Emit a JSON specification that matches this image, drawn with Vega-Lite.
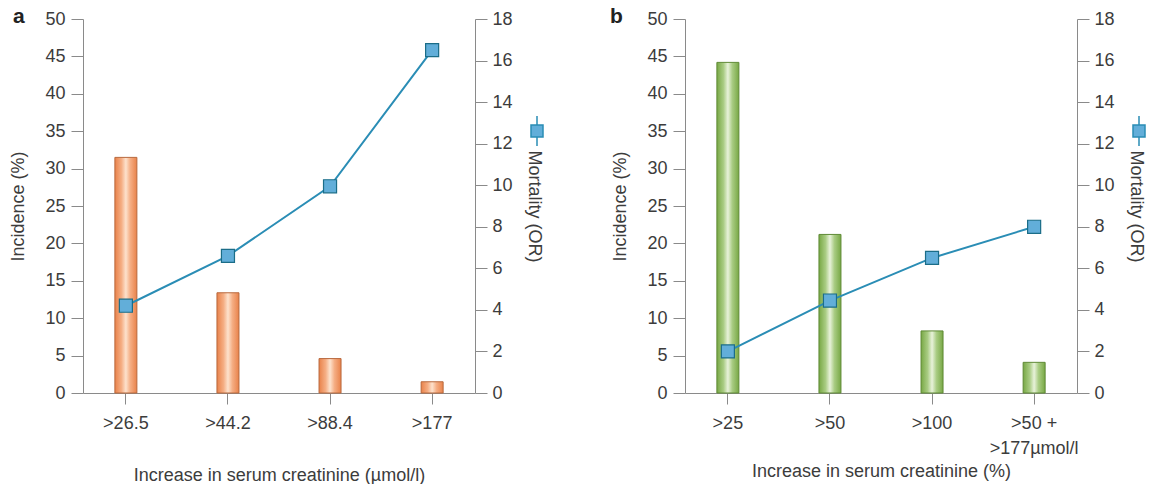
{
  "$schema": "https://vega.github.io/schema/vega-lite/v6.json",
  "background": "white",
  "padding": {"left": 9, "top": 6, "right": 0, "bottom": 0},
  "spacing": 52,
  "config": {
    "view": {"stroke": null},
    "font": "Liberation Sans",
    "axis": {
      "labelFont": "Liberation Sans", "labelFontSize": 18, "labelColor": "#3c3c3c",
      "titleFont": "Liberation Sans", "titleFontSize": 18, "titleFontWeight": "normal", "titleColor": "#3c3c3c",
      "domainColor": "#8a8a8a", "tickColor": "#8a8a8a", "grid": false, "tickSize": 12, "labelPadding": 6
    },
    "title": {"font": "Liberation Sans", "fontSize": 21, "fontWeight": "bold", "color": "#222222"}
  },
  "resolve": {"scale": {"color": "independent"}, "legend": {"color": "independent"}},
  "hconcat": [
    {
      "width": 392, "height": 374,
      "title": {"text": "a", "anchor": "start", "frame": "bounds", "offset": 0, "dx": 3, "dy": 17},
      "data": {"values": [
        {"level": ">26.5", "incidence": 31.5, "mortality": 4.2},
        {"level": ">44.2", "incidence": 13.4, "mortality": 6.6},
        {"level": ">88.4", "incidence": 4.6, "mortality": 9.95},
        {"level": ">177", "incidence": 1.5, "mortality": 16.5}
      ]},
      "encoding": {
        "x": {"field": "level", "type": "nominal", "sort": null,
          "scale": {"paddingInner": 0.5, "paddingOuter": 0.17},
          "axis": {"title": "Increase in serum creatinine (µmol/l)", "labelAngle": 0, "tickSize": 11, "labelPadding": 10, "titlePadding": 34}}
      },
      "layer": [
        {
          "mark": {"type": "bar", "width": 22, "stroke": "#b8683d", "strokeWidth": 1,
            "color": {"gradient": "linear", "x1": 0, "x2": 1, "y1": 0, "y2": 0,
              "stops": [{"offset": 0, "color": "#e9824a"}, {"offset": 0.3, "color": "#f5ae84"}, {"offset": 0.5, "color": "#fde2cd"}, {"offset": 0.7, "color": "#f5ae84"}, {"offset": 1, "color": "#e9824a"}]}},
          "encoding": {"y": {"field": "incidence", "type": "quantitative",
            "scale": {"domain": [0, 50], "nice": false},
            "axis": {"orient": "left", "title": "Incidence (%)", "values": [0,5,10,15,20,25,30,35,40,45,50], "titlePadding": 17}}}
        },
        {
          "encoding": {"y": {"field": "mortality", "type": "quantitative",
            "scale": {"domain": [0, 18], "nice": false},
            "axis": {"orient": "right", "title": "Mortality (OR)", "values": [0,2,4,6,8,10,12,14,16,18], "labelPadding": 5, "titlePadding": 12}}},
          "layer": [
            {"mark": {"type": "line", "strokeWidth": 2},
             "encoding": {"color": {"datum": "Mortality (OR)", "scale": {"range": ["#2a8db5"]},
               "legend": {"orient": "none", "legendX": 438, "legendY": 96, "title": null, "labelExpr": "''", "padding": 0,
                 "symbolType": "M-0.4,-0.4H0.4V0.4H-0.4Z M0,-1V-0.4 M0,0.4V1", "symbolSize": 900,
                 "symbolFillColor": "#62aed9", "symbolStrokeColor": "#1f7ea3", "symbolStrokeWidth": 1.5}}}},
            {"mark": {"type": "point", "shape": "square", "size": 170, "filled": true, "fill": "#62aed9", "stroke": "#1b6d88", "strokeWidth": 1.2, "opacity": 1}}
          ]
        }
      ],
      "resolve": {"scale": {"y": "independent"}}
    },
    {
      "width": 392, "height": 374,
      "title": {"text": "b", "anchor": "start", "frame": "bounds", "offset": 0, "dx": -2, "dy": 17},
      "data": {"values": [
        {"level": ">25", "incidence": 44.2, "mortality": 2.0},
        {"level": ">50", "incidence": 21.2, "mortality": 4.45},
        {"level": ">100", "incidence": 8.3, "mortality": 6.5},
        {"level": ">50 +\n>177µmol/l", "incidence": 4.1, "mortality": 8.0}
      ]},
      "encoding": {
        "x": {"field": "level", "type": "nominal", "sort": null,
          "scale": {"paddingInner": 0.5, "paddingOuter": 0.17},
          "axis": {"title": "Increase in serum creatinine (%)", "labelAngle": 0, "tickSize": 11, "labelPadding": 10, "titlePadding": 5,
            "labelExpr": "split(datum.value, '\\n')", "labelLineHeight": 25}}
      },
      "layer": [
        {
          "mark": {"type": "bar", "width": 22, "stroke": "#5f8a35", "strokeWidth": 1,
            "color": {"gradient": "linear", "x1": 0, "x2": 1, "y1": 0, "y2": 0,
              "stops": [{"offset": 0, "color": "#78a845"}, {"offset": 0.3, "color": "#a9cc83"}, {"offset": 0.5, "color": "#e8f2da"}, {"offset": 0.7, "color": "#a9cc83"}, {"offset": 1, "color": "#78a845"}]}},
          "encoding": {"y": {"field": "incidence", "type": "quantitative",
            "scale": {"domain": [0, 50], "nice": false},
            "axis": {"orient": "left", "title": "Incidence (%)", "values": [0,5,10,15,20,25,30,35,40,45,50], "titlePadding": 17}}}
        },
        {
          "encoding": {"y": {"field": "mortality", "type": "quantitative",
            "scale": {"domain": [0, 18], "nice": false},
            "axis": {"orient": "right", "title": "Mortality (OR)", "values": [0,2,4,6,8,10,12,14,16,18], "labelPadding": 5, "titlePadding": 12}}},
          "layer": [
            {"mark": {"type": "line", "strokeWidth": 2},
             "encoding": {"color": {"datum": "Mortality (OR)", "scale": {"range": ["#2a8db5"]},
               "legend": {"orient": "none", "legendX": 438, "legendY": 96, "title": null, "labelExpr": "''", "padding": 0,
                 "symbolType": "M-0.4,-0.4H0.4V0.4H-0.4Z M0,-1V-0.4 M0,0.4V1", "symbolSize": 900,
                 "symbolFillColor": "#62aed9", "symbolStrokeColor": "#1f7ea3", "symbolStrokeWidth": 1.5}}}},
            {"mark": {"type": "point", "shape": "square", "size": 170, "filled": true, "fill": "#62aed9", "stroke": "#1b6d88", "strokeWidth": 1.2, "opacity": 1}}
          ]
        }
      ],
      "resolve": {"scale": {"y": "independent"}}
    }
  ]
}
